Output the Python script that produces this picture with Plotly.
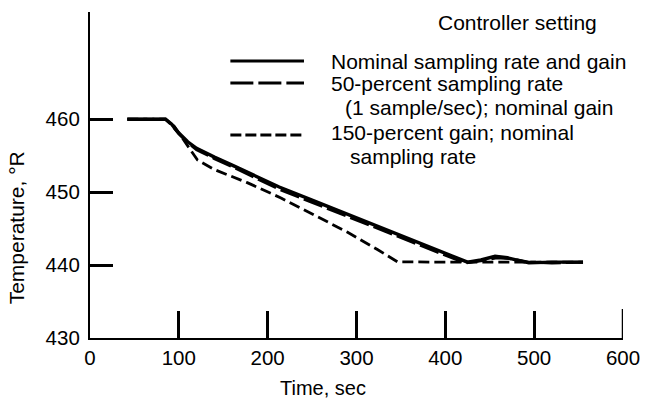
import plotly.graph_objects as go

# Temperature response for three controller settings
time_nominal = [42, 85, 92, 100, 110, 120, 132, 140, 160, 180, 213, 250, 287, 320, 360, 398, 425, 440, 456, 470, 494, 520, 555]
temp_nominal = [460, 460, 459.3, 458.1, 456.9, 456.0, 455.3, 454.8, 453.7, 452.6, 450.7, 448.9, 447.1, 445.5, 443.6, 441.8, 440.4, 440.7, 441.2, 441.0, 440.3, 440.4, 440.4]

time_half_rate = [42, 85, 92, 100, 110, 120, 132, 140, 160, 180, 213, 250, 287, 320, 360, 398, 422, 440, 458, 472, 494, 520, 555]
temp_half_rate = [460, 460, 459.2, 458.0, 456.8, 455.8, 455.1, 454.6, 453.5, 452.3, 450.4, 448.6, 446.8, 445.2, 443.3, 441.5, 440.3, 440.6, 441.0, 440.9, 440.4, 440.3, 440.4]

time_high_gain = [42, 85, 95, 103, 110, 121, 140, 177, 215, 250, 290, 324, 346, 400, 555]
temp_high_gain = [460, 460, 459.0, 457.6, 456.2, 454.4, 453.1, 451.3, 449.2, 447.0, 444.5, 442.1, 440.45, 440.4, 440.4]

x_ticks = [0, 100, 200, 300, 400, 500, 600]
y_ticks = [430, 440, 450, 460]
y_tick_text = ["430\u2009", "440\u2009", "450\u2009", "460\u2009"]

legend_labels = [
    "Nominal sampling rate and gain",
    "50-percent sampling rate",
    "(1 sample/sec); nominal gain",
    "150-percent gain; nominal",
    "sampling rate",
]

FONT = "Liberation Sans, Arial, Helvetica, sans-serif"
INK = "black"

fig = go.Figure()
fig.add_trace(go.Scatter(x=time_high_gain, y=temp_high_gain, mode="lines",
                         line=dict(color=INK, width=2.8, dash="11px,5px")))
fig.add_trace(go.Scatter(x=time_nominal, y=temp_nominal, mode="lines",
                         line=dict(color=INK, width=3.4)))
fig.add_trace(go.Scatter(x=time_half_rate, y=temp_half_rate, mode="lines",
                         line=dict(color=INK, width=3, dash="20px,5px")))

# plot area in pixels: left 90, right 633, top 12, bottom 338
L, R, T, B = 90, 633, 12, 338
def px(xp):
    return (xp - L) / (R - L)
def py(yp):
    return (B - yp) / (B - T)

shapes = []
legend_rows = [(61, "solid"), (83, "23px,5px"), (135, "11px,4px")]
for yrow, dash in legend_rows:
    shapes.append(dict(type="line", xref="paper", yref="paper",
                       x0=px(233), x1=px(308), y0=py(yrow), y1=py(yrow),
                       line=dict(color=INK, width=3.2, dash=dash)))
# closing tick at the right end of the time axis
shapes.append(dict(type="line", xref="x", yref="paper", x0=600, x1=600,
                   y0=0, y1=py(B - 29), line=dict(color=INK, width=2.5)))

annotations = [
    dict(text="Controller setting", x=px(443), y=py(22)),
    dict(text=legend_labels[0], x=px(333), y=py(61)),
    dict(text=legend_labels[1], x=px(333), y=py(84)),
    dict(text=legend_labels[2], x=px(348), y=py(108)),
    dict(text=legend_labels[3], x=px(333), y=py(132)),
    dict(text=legend_labels[4], x=px(353), y=py(156)),
]
for a in annotations:
    a.update(xref="paper", yref="paper", xanchor="left", yanchor="middle",
             showarrow=False, font=dict(family=FONT, size=21, color=INK))

annotations.append(dict(text="Time, sec", xref="paper", yref="paper",
                        x=px(327), y=py(388), xanchor="center", yanchor="middle",
                        showarrow=False, font=dict(family=FONT, size=20, color=INK)))
annotations.append(dict(text="Temperature, °R", xref="paper", yref="paper",
                        x=px(16), y=py(228), xanchor="center", yanchor="middle",
                        textangle=-90, showarrow=False,
                        font=dict(family=FONT, size=21, color=INK)))

fig.update_layout(
    width=652, height=398,
    margin=dict(l=L, r=652 - R, t=T, b=398 - B),
    paper_bgcolor="white", plot_bgcolor="white",
    showlegend=False,
    font=dict(family=FONT, size=20, color=INK),
    shapes=shapes, annotations=annotations,
)
fig.update_xaxes(range=[0, 600], tickvals=x_ticks, ticks="inside", ticklen=27,
                 tickwidth=2.5, tickcolor=INK, showline=True, linecolor=INK,
                 linewidth=2, showgrid=False, zeroline=False,
                 tickfont=dict(family=FONT, size=20.5, color=INK))
fig.update_yaxes(range=[430, 474.7], tickvals=y_ticks, ticktext=y_tick_text,
                 ticks="inside", ticklen=23,
                 tickwidth=2.5, tickcolor=INK, showline=True, linecolor=INK,
                 linewidth=2, showgrid=False, zeroline=False,
                 tickfont=dict(family=FONT, size=20.5, color=INK))

fig.write_html("out.html")
